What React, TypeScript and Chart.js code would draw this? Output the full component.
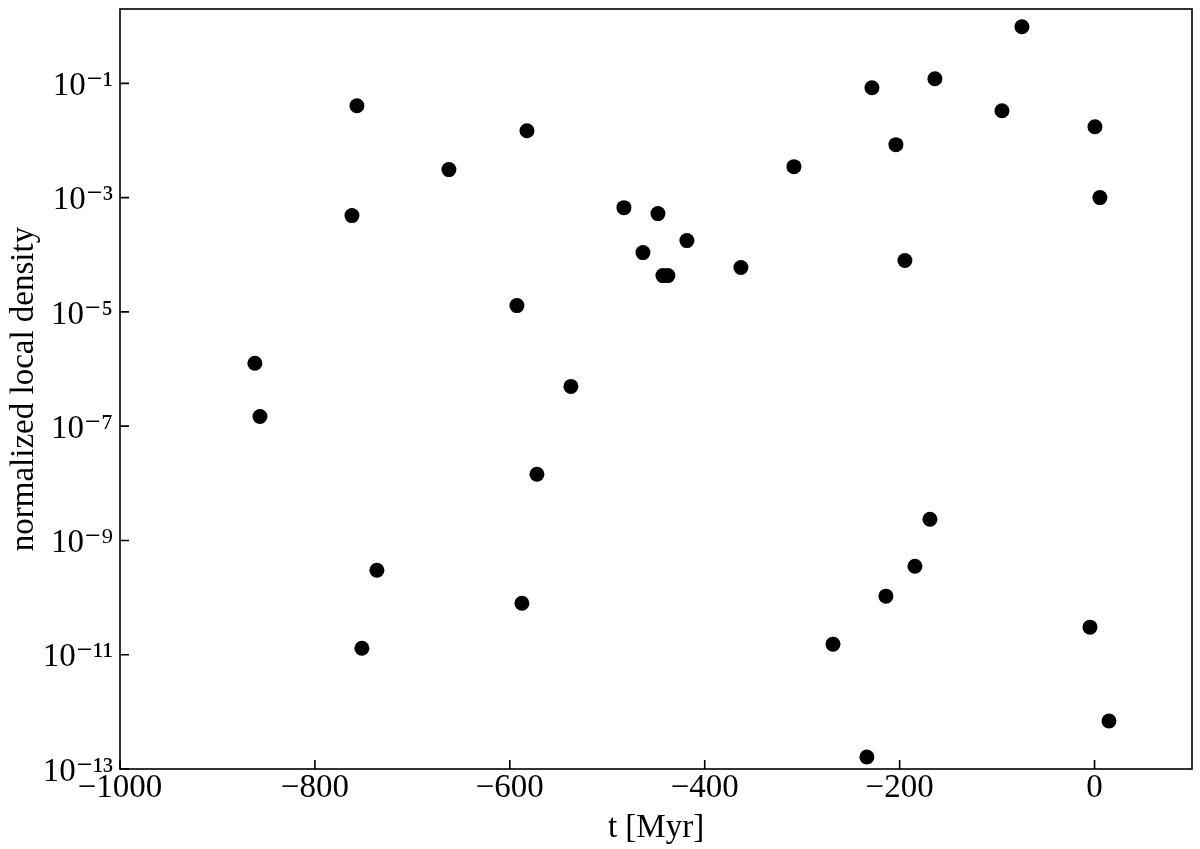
import React, { useEffect, useRef } from "react";
import { Chart, registerables } from "chart.js";

Chart.register(...registerables);

// ---- data ----
const timesMyr: number[] = [
  -861.6, -856.4, -756.9, -762.0, -736.4, -751.8, -662.5, -582.4, -592.7, -572.2,
  -537.3, -587.6, -482.9, -463.4, -448.0, -442.9, -437.8, -418.3, -362.9, -308.5,
  -268.4, -228.4, -233.6, -203.8, -214.1, -194.6, -184.3, -168.9, -163.8, -95.0,
  -74.5, 0.4, 5.5, -4.7, 14.8,
];
const densities: number[] = [
  1.26e-6, 1.48e-7, 4.05e-2, 4.84e-4, 3.01e-10, 1.3e-11, 3.09e-3, 1.48e-2, 1.29e-5, 1.44e-8,
  4.97e-7, 7.98e-11, 6.68e-4, 1.09e-4, 5.25e-4, 4.32e-5, 4.32e-5, 1.77e-4, 5.97e-5, 3.48e-3,
  1.53e-11, 8.38e-2, 1.62e-13, 8.45e-3, 1.06e-10, 7.93e-5, 3.54e-10, 2.35e-9, 1.2e-1, 3.32e-2,
  9.77e-1, 1.74e-2, 1.0e-3, 3.04e-11, 6.9e-13,
];
const xTickValues: number[] = [-1000, -800, -600, -400, -200, 0];
const yTickExponents: number[] = [-13, -11, -9, -7, -5, -3, -1];
const xRange: number[] = [-1000, 100];
const yRange: number[] = [1e-13, 2];
const xTitle = "t [Myr]";
const yTitle = "normalized local density";

const SUP: Record<string, string> = {
  "-": "\u207B", "0": "\u2070", "1": "\u00B9", "2": "\u00B2", "3": "\u00B3",
  "4": "\u2074", "5": "\u2075", "6": "\u2076", "7": "\u2077", "8": "\u2078", "9": "\u2079",
};
const sup = (n: number) => String(n).split("").map((c) => SUP[c] || c).join("");
const fmtX = (v: number) => (v < 0 ? "\u2212" + Math.abs(v) : String(v));
const fmtY = (v: number) => "10" + sup(Math.round(Math.log10(v)));

const FONT = { family: "'Liberation Serif', 'DejaVu Serif', serif", size: 33 };

const framePlugin = {
  id: "frameTicks",
  afterDraw(chart: any) {
    const { ctx, chartArea } = chart;
    const { left, right, top, bottom } = chartArea;
    ctx.save();
    ctx.strokeStyle = "#000";
    ctx.lineWidth = 1.6;
    ctx.strokeRect(left, top, right - left, bottom - top);
    const xs = chart.scales.x;
    const ys = chart.scales.y;
    ctx.beginPath();
    for (const v of xTickValues) {
      const px = xs.getPixelForValue(v);
      ctx.moveTo(px, bottom);
      ctx.lineTo(px, bottom - 9);
    }
    for (const e of yTickExponents) {
      const py = ys.getPixelForValue(Math.pow(10, e));
      ctx.moveTo(left, py);
      ctx.lineTo(left + 9, py);
    }
    ctx.stroke();
    ctx.restore();
  },
};

export default function App() {
  const ref = useRef<HTMLCanvasElement | null>(null);
  useEffect(() => {
    if (!ref.current) return;
    const points = timesMyr.map((t, i) => ({ x: t, y: densities[i] }));
    const chart = new Chart(ref.current, {
      type: "scatter",
      data: {
        datasets: [
          {
            data: points,
            backgroundColor: "#000",
            borderColor: "#000",
            pointRadius: 7.5,
            pointBorderWidth: 0,
            pointHoverRadius: 7.5,
          },
        ],
      },
      options: {
        animation: false,
        responsive: false,
        devicePixelRatio: 1,
        layout: { padding: { left: 0, right: 8, top: 9, bottom: 0 } },
        plugins: { legend: { display: false }, tooltip: { enabled: false } },
        scales: {
          x: {
            type: "linear",
            min: xRange[0],
            max: xRange[1],
            afterBuildTicks: (s: any) => {
              s.ticks = xTickValues.map((v) => ({ value: v }));
            },
            afterFit: (s: any) => {
              s.height = 80;
              s.paddingLeft = 0;
              s.paddingRight = 0;
            },
            grid: { display: false, drawTicks: false, tickLength: 0 },
            border: { display: false },
            ticks: {
              color: "#000",
              font: FONT,
              padding: 0,
              maxRotation: 0,
              autoSkip: false,
              callback: (v: any) => fmtX(Number(v)),
            },
            title: {
              display: true,
              text: xTitle,
              color: "#000",
              font: FONT,
              padding: { top: 0, bottom: 1 },
            },
          },
          y: {
            type: "logarithmic",
            min: yRange[0],
            max: yRange[1],
            afterBuildTicks: (s: any) => {
              s.ticks = yTickExponents.map((e) => ({ value: Math.pow(10, e) }));
            },
            afterFit: (s: any) => {
              s.width = 120;
              s.paddingTop = 0;
              s.paddingBottom = 0;
            },
            grid: { display: false, drawTicks: false, tickLength: 0 },
            border: { display: false },
            ticks: {
              color: "#000",
              font: FONT,
              padding: 7,
              labelOffset: 3,
              autoSkip: false,
              callback: (v: any) => fmtY(Number(v)),
            },
            title: {
              display: true,
              text: yTitle,
              color: "#000",
              font: FONT,
              padding: { top: 5, bottom: 0 },
            },
          },
        },
      },
      plugins: [framePlugin],
    } as any);
    return () => chart.destroy();
  }, []);

  return (
    <div style={{ position: "fixed", left: 0, top: 0, width: 1200, height: 849, background: "#fff" }}>
      <canvas ref={ref} width={1200} height={849} style={{ display: "block", width: 1200, height: 849 }} />
    </div>
  );
}
